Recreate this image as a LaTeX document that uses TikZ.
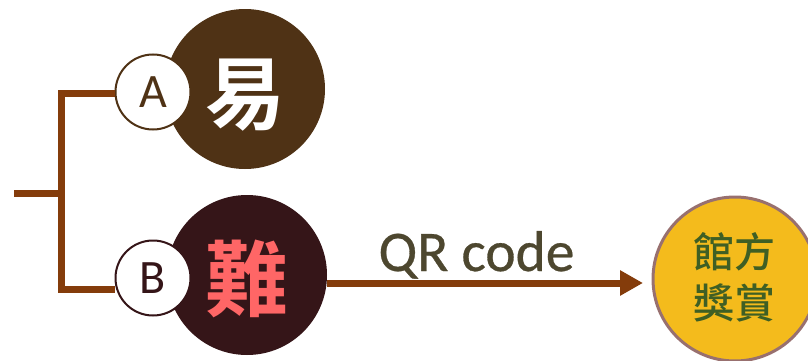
\documentclass[tikz,border=0pt]{standalone}
\usepackage{fontspec}
\setmainfont{Carlito}
\newfontfamily\qrfont[FakeBold=0.5]{Carlito}
\newfontfamily\cjkb{Noto Sans CJK TC Bold}
\newfontfamily\cjkm{Noto Sans CJK TC Medium}
\usetikzlibrary{arrows.meta}
\definecolor{linebrown}{HTML}{843C0B}
\definecolor{darkbrown}{HTML}{4F3215}
\definecolor{darkmaroon}{HTML}{351518}
\definecolor{salmon}{HTML}{FF6666}
\definecolor{olivetext}{HTML}{4D472F}
\definecolor{gold}{HTML}{F4BB1C}
\definecolor{ringmauve}{HTML}{98706F}
\definecolor{leafgreen}{HTML}{3F5F24}
\tikzset{
  bigdisc/.style={circle,inner sep=0pt,minimum size=160pt},
  smalldisc/.style={circle,draw,fill=white,line width=2pt,inner sep=0pt,minimum size=75pt,font=\fontsize{48}{48}\selectfont},
  conn/.style={draw=linebrown,line width=7pt},
}
\begin{document}
\begin{tikzpicture}[x=1pt,y=1pt]
\useasboundingbox (0,0) rectangle (808,360);
\clip (0,0) rectangle (808,360);
% big discs
\node[bigdisc,fill=darkbrown] (easy) at (245,271) {};
\node[bigdisc,fill=darkmaroon] (hard) at (247,85) {};
\node[text=white,font=\cjkb\fontsize{80}{80}\selectfont,inner sep=0pt] (easyt) at (245,265) {易};
\node[text=salmon,font=\cjkb\fontsize{83}{83}\selectfont,inner sep=0pt] (hardt) at (247,81) {難};
% connectors
\coordinate (stub) at (14,167);
\coordinate (jA) at (61,267);
\coordinate (jB) at (61,71);
\coordinate (jM) at (61,167);
\draw[conn] (stub) -- (jM);
\node[smalldisc,draw=darkbrown,text=darkbrown] (A) at (153,268) {A};
\node[smalldisc,draw=darkmaroon,text=darkmaroon] (B) at (153,82) {B};
\draw[conn,line join=miter] (A.west |- jA) -- (jA) -- (jB) -- (B.west |- jB);
% arrow
\coordinate (tip) at (643,77);
\draw[draw=linebrown,line width=7pt,-{Triangle[length=23pt,width=24pt,fill=linebrown]}] (hard.east |- tip) -- (tip);
\node[text=olivetext,font=\qrfont\fontsize{57.5}{57.5}\selectfont,inner sep=0pt,anchor=base] (qr) at (476.5,89) {QR code};
% prize
\node[circle,draw=ringmauve,fill=gold,line width=3pt,inner sep=0pt,minimum size=164pt] (prize) at (735,81) {};
\node[text=leafgreen,font=\cjkm\fontsize{41}{41}\selectfont,inner sep=0pt] (p1) at (734,108) {館方};
\node[text=leafgreen,font=\cjkm\fontsize{41}{41}\selectfont,inner sep=0pt] (p2) at (734,57) {獎賞};
\end{tikzpicture}
\end{document}
